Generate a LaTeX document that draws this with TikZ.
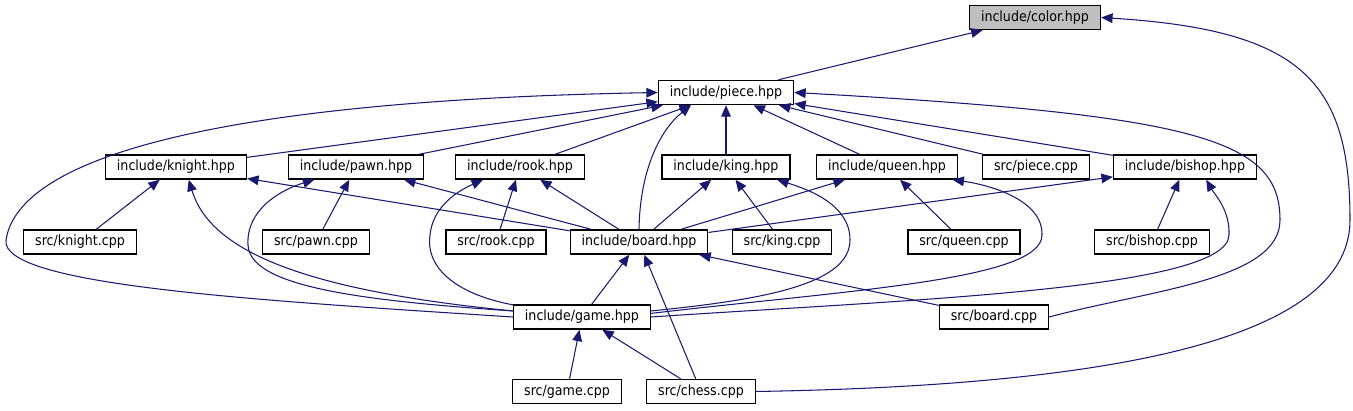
\documentclass[tikz,border=0pt]{standalone}
\usepackage{fontspec}
\setmainfont{DejaVu Sans Condensed}
\usetikzlibrary{arrows.meta}
\definecolor{bleunuit}{HTML}{191970}
\definecolor{grisclair}{HTML}{BFBFBF}
\tikzset{
  boite/.style={draw=black, line width=0.8pt, fill=white, minimum height=13.7pt,
    inner xsep=6.5pt, inner ysep=0pt, font=\fontsize{8}{9}\selectfont},
  lien/.style={draw=bleunuit, line width=0.6pt, -{Triangle[length=6.5pt,width=5.5pt]}}
}
\newcommand{\boite}[4][]{\node[boite,#1] (#2) at (#3) {#4}}
\newcommand{\fleche}[2]{\draw[lien] (#1) -- (#2)}

\begin{document}
\begin{tikzpicture}[x=0.02cm,y=-0.02cm]
	\useasboundingbox (0,0) rectangle (1353,411);
	\boite[fill=grisclair]{color}{1035,17.5}{include/color.hpp};
	\boite{piece}{726,92.5}{include/piece.hpp};
	\boite{knight}{176,167}{include/knight.hpp};
	\boite{pawn}{356,167}{include/pawn.hpp};
	\boite{rook}{520,167}{include/rook.hpp};
	\boite{king}{726,167}{include/king.hpp};
	\boite{queen}{887,167}{include/queen.hpp};
	\boite{piececpp}{1036,167}{src/piece.cpp};
	\boite{bishop}{1185,167}{include/bishop.hpp};
	\boite{knightcpp}{80,242}{src/knight.cpp};
	\boite{pawncpp}{316,242}{src/pawn.cpp};
	\boite{rookcpp}{496,242}{src/rook.cpp};
	\boite{board}{639,242}{include/board.hpp};
	\boite{kingcpp}{782,242}{src/king.cpp};
	\boite{queencpp}{964,242}{src/queen.cpp};
	\boite{bishopcpp}{1152,242}{src/bishop.cpp};
	\boite{game}{582,317}{include/game.hpp};
	\boite{boardcpp}{994,317}{src/board.cpp};
	\boite{gamecpp}{567,391.5}{src/game.cpp};
	\boite{chesscpp}{701,391.5}{src/chess.cpp};

	\fleche{piece}{color};
	\draw[lien] (chesscpp.east) .. controls (1150,385) and (1350,330) .. (1350,220)
		.. controls (1350,80) and (1300,30) .. (color.east);

	\fleche{knight}{piece};
	\fleche{pawn}{piece};
	\fleche{rook}{piece};
	\fleche{king}{piece};
	\fleche{queen}{piece};
	\fleche{piececpp}{piece};
	\fleche{bishop}{piece};
	\draw[lien] (board.north) .. controls (640,170) and (660,130) .. (piece.-160);
	\draw[lien] (game.west) .. controls (250,300) and (0,285) .. (6,240)
		.. controls (20,150) and (250,100) .. (piece.west);
	\draw[lien] (boardcpp.east) .. controls (1150,290) and (1280,280) .. (1280,220)
		.. controls (1280,140) and (1200,115) .. (piece.east);

	\fleche{knightcpp}{knight};
	\fleche{board}{knight};
	\draw[lien] (game.175) .. controls (300,290) and (210,250) .. (knight.-45);

	\fleche{pawncpp}{pawn};
	\fleche{board}{pawn};
	\draw[lien] (game.175) .. controls (350,300) and (250,285) .. (248,245)
		.. controls (246,210) and (280,190) .. (pawn.-163);

	\fleche{rookcpp}{rook};
	\fleche{board}{rook};
	\draw[lien] (game.170) .. controls (460,295) and (425,270) .. (430,235)
		.. controls (433,205) and (460,190) .. (rook.-161);

	\fleche{kingcpp}{king};
	\fleche{board}{king};
	\draw[lien] (game.5) .. controls (760,300) and (850,285) .. (850,240)
		.. controls (850,205) and (810,190) .. (king.-14);

	\fleche{queencpp}{queen};
	\fleche{board}{queen};
	\draw[lien] (game.3) .. controls (850,290) and (1042,280) .. (1042,235)
		.. controls (1043,200) and (990,185) .. (queen.-11);

	\fleche{bishopcpp}{bishop};
	\fleche{board}{bishop};
	\draw[lien] (game.0) .. controls (900,300) and (1228,290) .. (1229,235)
		.. controls (1230,210) and (1215,195) .. (bishop.-31);

	\fleche{game}{board};
	\fleche{chesscpp}{board};
	\fleche{boardcpp}{board};
	\fleche{gamecpp}{game};
	\fleche{chesscpp}{game};
\end{tikzpicture}
\end{document}
